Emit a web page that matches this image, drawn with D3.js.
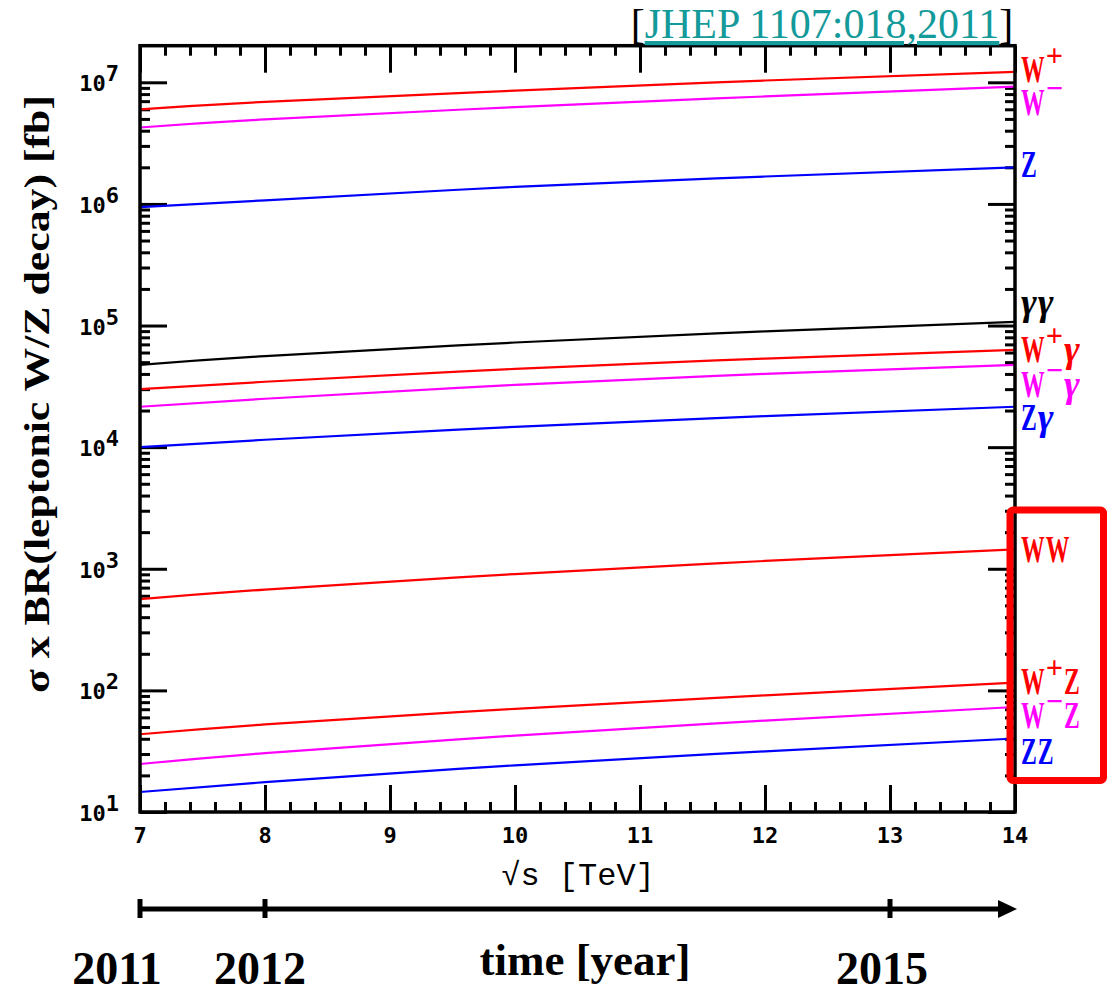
<!DOCTYPE html>
<html>
<head>
<meta charset="utf-8">
<script src="https://cdn.jsdelivr.net/npm/d3@7"></script>
<style>
  body { margin: 0; background: #fff; }
  svg { display: block; }
</style>
</head>
<body>
<svg width="1109" height="990"></svg>
<script>
// sqrt(s) points
const energies = [7, 8, 10, 12, 14];

// sigma x BR in fb
const wPlus   = [6.0e6, 6.9e6, 8.55e6, 1.035e7, 1.22e7];
const wMinus  = [4.25e6, 4.95e6, 6.25e6, 7.65e6, 9.2e6];
const zBoson  = [9.4e5, 1.07e6, 1.38e6, 1.68e6, 2.0e6];
const gamGam  = [4.75e4, 5.6e4, 7.25e4, 8.95e4, 1.07e5];
const wPlusG  = [3.0e4, 3.45e4, 4.4e4, 5.35e4, 6.3e4];
const wMinusG = [2.15e4, 2.5e4, 3.25e4, 4.0e4, 4.75e4];
const zGam    = [1.0e4, 1.15e4, 1.47e4, 1.8e4, 2.15e4];
const ww      = [562, 675, 905, 1160, 1445];
const wPlusZ  = [43.6, 52.5, 70.5, 91, 116];
const wMinusZ = [24.8, 30.5, 42.5, 56.5, 73];
const zz      = [14.6, 17.6, 24.2, 31.5, 40.2];

const seriesNames  = ['W^+', 'W^-', 'Z', 'γγ', 'W^+γ', 'W^-γ', 'Zγ', 'WW', 'W^+Z', 'W^-Z', 'ZZ'];
const seriesValues = [wPlus, wMinus, zBoson, gamGam, wPlusG, wMinusG, zGam, ww, wPlusZ, wMinusZ, zz];
const seriesColors = ['#ff0000', '#ff00ff', '#0000ff', '#000000', '#ff0000', '#ff00ff', '#0000ff',
                      '#ff0000', '#ff0000', '#ff00ff', '#0000ff'];

// tick labels
const xTickLabels = ['7', '8', '9', '10', '11', '12', '13', '14'];
const yExponents = [1, 2, 3, 4, 5, 6, 7];

// timeline
const years = ['2011', '2012', '2015'];
const yearEnergy = [7, 8, 13];

const svg = d3.select('svg');

const x = d3.scaleLinear().domain([7, 14]).range([140, 1015]);
const y = d3.scaleLog().domain([10, 2e7]).range([812, 45.7]);

const xMajor = xTickLabels.map(Number);
const xMinor = d3.range(7, 14, 0.2).filter(v => Math.abs(v - Math.round(v)) > 0.01);
const yMajor = yExponents.map(e => Math.pow(10, e));
const yMinor = [];
yExponents.forEach(e => {
  for (let k = 2; k <= 9; k++) {
    const v = k * Math.pow(10, e);
    if (v < 2e7) yMinor.push(v);
  }
});

// ---- axes (ticks pointing inwards on all four sides)
function tickAxis(axisFn, scale, values, size, transform) {
  const g = svg.append('g')
    .attr('transform', transform)
    .call(axisFn(scale).tickValues(values).tickSize(-size).tickSizeOuter(0).tickFormat(''));
  g.select('.domain').remove();
  g.selectAll('line').attr('stroke', '#000').attr('stroke-width', 3);
}

tickAxis(d3.axisBottom, x, xMajor, 27, 'translate(0,812)');
tickAxis(d3.axisBottom, x, xMinor, 10, 'translate(0,812)');
tickAxis(d3.axisTop, x, xMajor, 27, 'translate(0,45.7)');
tickAxis(d3.axisTop, x, xMinor, 10, 'translate(0,45.7)');
tickAxis(d3.axisLeft, y, yMajor, 27, 'translate(140,0)');
tickAxis(d3.axisLeft, y, yMinor, 10, 'translate(140,0)');
tickAxis(d3.axisRight, y, yMajor, 27, 'translate(1015,0)');
tickAxis(d3.axisRight, y, yMinor, 10, 'translate(1015,0)');

// tick labels
svg.append('g')
  .selectAll('text')
  .data(xTickLabels)
  .join('text')
  .attr('x', d => x(+d))
  .attr('y', 843)
  .attr('text-anchor', 'middle')
  .attr('font-family', 'DejaVu Sans Mono')
  .attr('font-weight', 'bold')
  .attr('font-size', 22)
  .text(d => d);

const yLab = svg.append('g')
  .selectAll('text')
  .data(yExponents)
  .join('text')
  .attr('x', 119)
  .attr('y', d => y(Math.pow(10, d)) + 9)
  .attr('text-anchor', 'end')
  .attr('font-family', 'DejaVu Sans Mono')
  .attr('font-weight', 'bold')
  .attr('font-size', 22);
yLab.append('tspan').text('10');
yLab.append('tspan').attr('dy', -10).text(d => d);

// ---- curves
const line = d3.line()
  .x((d, i) => x(energies[i]))
  .y(d => y(d))
  .curve(d3.curveNatural);

svg.append('g')
  .selectAll('path')
  .data(seriesValues)
  .join('path')
  .attr('d', line)
  .attr('fill', 'none')
  .attr('stroke', (d, i) => seriesColors[i])
  .attr('stroke-width', 2.2);

// frame
svg.append('rect')
  .attr('x', 140).attr('y', 45.7)
  .attr('width', 875).attr('height', 766.3)
  .attr('fill', 'none')
  .attr('stroke', '#000')
  .attr('stroke-width', 3.5);

// ---- series labels at the right end
const labelShift = { 'W^+': 10, 'W^-': 28, 'Z': 10, 'γγ': -7, 'W^+γ': 12, 'W^-γ': 32,
                     'Zγ': 23, 'WW': 13, 'W^+Z': 11, 'W^-Z': 21, 'ZZ': 25 };

seriesNames.forEach((name, i) => {
  const vals = seriesValues[i];
  const g = svg.append('g')
    .attr('transform', `translate(1021,${y(vals[vals.length - 1]) + labelShift[name]})`)
    .attr('fill', seriesColors[i]);
  let cx = 0;
  let sup = false;
  for (const ch of name) {
    if (ch === '^') { sup = true; continue; }
    const t = g.append('text').attr('font-family', 'Liberation Serif');
    let sx = 0.64, dy = 0;
    if (ch === 'γ') {
      t.attr('font-style', 'italic').attr('font-weight', 'bold').attr('font-size', 38).text('γ');
      sx = 1;
    } else if (sup) {
      t.attr('font-size', 32).attr('font-weight', 'bold').text(ch === '-' ? '\u2212' : ch);
      sx = 0.95; dy = -16;
    } else {
      t.attr('font-size', 37).attr('font-weight', 'bold').text(ch);
    }
    t.attr('transform', `translate(${cx},${dy}) scale(${sx},1)`);
    cx += t.node().getComputedTextLength() * sx + 1;
    sup = false;
  }
});

// red box around the diboson labels
svg.append('rect')
  .attr('x', 1010).attr('y', 510)
  .attr('width', 93.5).attr('height', 270.5)
  .attr('rx', 3)
  .attr('fill', 'none')
  .attr('stroke', '#ff0000')
  .attr('stroke-width', 7);

// ---- axis titles
svg.append('text')
  .attr('x', 578).attr('y', 885)
  .attr('text-anchor', 'middle')
  .attr('font-family', 'Liberation Mono')
  .attr('font-size', 32)
  .text('√s [TeV]');

svg.append('text')
  .attr('transform', 'translate(49,394) rotate(-90)')
  .attr('text-anchor', 'middle')
  .attr('font-family', 'Liberation Serif')
  .attr('font-weight', 'bold')
  .attr('font-size', 36)
  .attr('textLength', 598)
  .attr('lengthAdjust', 'spacingAndGlyphs')
  .text('σ x BR(leptonic W/Z decay) [fb]');

// reference
const ref = svg.append('text')
  .attr('x', 822).attr('y', 38)
  .attr('text-anchor', 'middle')
  .attr('font-family', 'Liberation Serif')
  .attr('font-size', 42);
ref.append('tspan').attr('fill', '#000').text('[');
ref.append('tspan').attr('fill', '#139a9a').attr('text-decoration', 'underline').text('JHEP 1107:018,2011');
ref.append('tspan').attr('fill', '#000').text(']');

// ---- timeline
const tl = svg.append('g');
tl.append('line')
  .attr('x1', x(7)).attr('x2', x(14) - 14)
  .attr('y1', 909).attr('y2', 909)
  .attr('stroke', '#000').attr('stroke-width', 5);
tl.append('path')
  .attr('d', `M${x(14) + 2},909 L${x(14) - 17},900 L${x(14) - 17},918 Z`)
  .attr('fill', '#000');
tl.selectAll('.yt')
  .data(yearEnergy)
  .join('line')
  .attr('class', 'yt')
  .attr('x1', d => x(d)).attr('x2', d => x(d))
  .attr('y1', 899).attr('y2', 918)
  .attr('stroke', '#000').attr('stroke-width', 5);

svg.append('g')
  .selectAll('text')
  .data(years)
  .join('text')
  .attr('x', (d, i) => x(yearEnergy[i]) + [-23, -5, -8][i])
  .attr('y', 984)
  .attr('text-anchor', 'middle')
  .attr('font-family', 'Liberation Serif')
  .attr('font-weight', 'bold')
  .attr('font-size', 46)
  .text(d => d);

svg.append('text')
  .attr('x', 585).attr('y', 975)
  .attr('text-anchor', 'middle')
  .attr('font-family', 'Liberation Serif')
  .attr('font-weight', 'bold')
  .attr('font-size', 45)
  .text('time [year]');
</script>
</body>
</html>
